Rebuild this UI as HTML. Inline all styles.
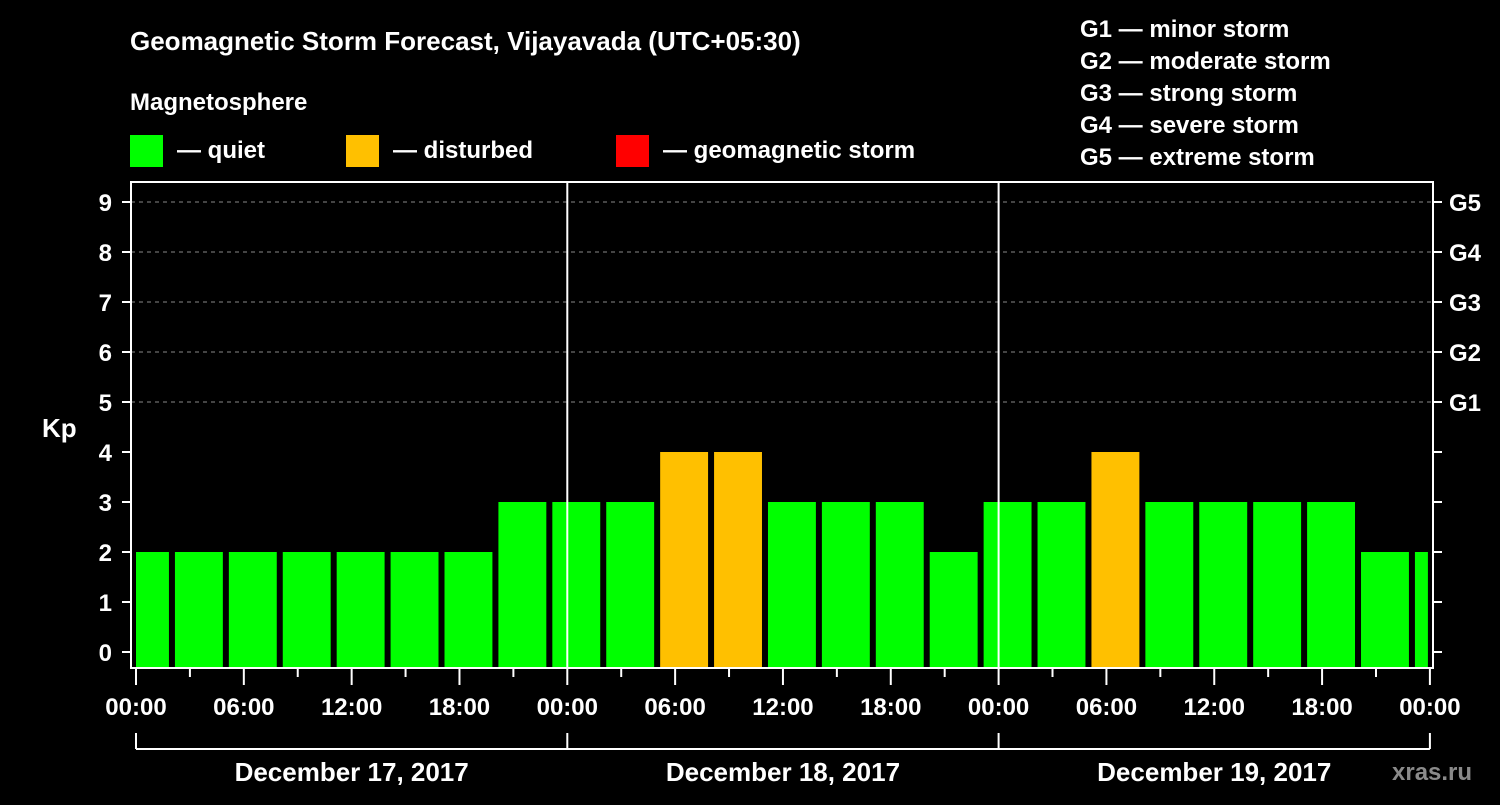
<!DOCTYPE html>
<html><head><meta charset="utf-8"><style>
html,body{margin:0;padding:0;background:#000;}
svg text{font-family:"Liberation Sans",Arial,sans-serif;font-weight:bold;fill:#fff;}
</style></head><body>
<svg id="c" width="1500" height="800" xmlns="http://www.w3.org/2000/svg">
<rect width="1500" height="800" fill="#000"/>
<text x="130" y="50" font-size="26">Geomagnetic Storm Forecast, Vijayavada (UTC+05:30)</text>
<text x="130" y="110" font-size="24">Magnetosphere</text>
<g><rect x="130" y="135" width="33" height="32" fill="#00ff00"/><text x="177" y="158" font-size="24">— quiet</text></g>
<g><rect x="346" y="135" width="33" height="32" fill="#ffc000"/><text x="393" y="158" font-size="24">— disturbed</text></g>
<g><rect x="616" y="135" width="33" height="32" fill="#ff0000"/><text x="663" y="158" font-size="24">— geomagnetic storm</text></g>
<g font-size="24">
<text x="1080" y="37">G1 — minor storm</text>
<text x="1080" y="69">G2 — moderate storm</text>
<text x="1080" y="101">G3 — strong storm</text>
<text x="1080" y="133">G4 — severe storm</text>
<text x="1080" y="165">G5 — extreme storm</text>
</g>
<text x="42" y="437" font-size="26">Kp</text>
<text x="1392" y="780" font-size="24" fill="#888" style="fill:#8a8a8a">xras.ru</text>
<g id="plot"></g>
</svg>
<script>
const kpValues=[2,2,2,2,2,2,2,3,3,3,4,4,3,3,3,2,3,3,4,3,3,3,3,2,2];
const kpLevels=[0,1,2,3,4,5,6,7,8,9];
const gLabels=["G1","G2","G3","G4","G5"];
const timeLabels=["00:00","06:00","12:00","18:00","00:00","06:00","12:00","18:00","00:00","06:00","12:00","18:00","00:00"];
const dayLabels=["December 17, 2017","December 18, 2017","December 19, 2017"];
const NS="http://www.w3.org/2000/svg";
const g=document.getElementById('plot');
const X0=136,DAY=431.3;
const x=h=>X0+h*DAY/24;
const y=v=>652-50*v;
function mk(t,a,p){const e=document.createElementNS(NS,t);for(const k in a)e.setAttribute(k,a[k]);(p||g).appendChild(e);return e;}
// grid
kpLevels.forEach(v=>{if(v>=5){const l=mk('line',{x1:131,x2:1433,y1:y(v),y2:y(v),stroke:'#888','stroke-dasharray':'4,4','stroke-width':1});

}});
// bars
kpValues.forEach((v,i)=>{
 let s=x(-1+3*i)+3,e=x(2+3*i)-3;
 s=Math.max(s,x(0));e=Math.min(e,x(72)-2);
 const col=v>=5?'#ff0000':(v>=4?'#ffc000':'#00ff00');
 const r=mk('rect',{x:s,y:y(v),width:e-s,height:668-y(v),fill:col});
 
 
});
// day separators
[1,2].forEach(d=>{const l=mk('line',{x1:x(24*d),x2:x(24*d),y1:182,y2:668,stroke:'#fff','stroke-width':2});

});
// frame
const f=mk('rect',{x:131,y:182,width:1302,height:486,fill:'none',stroke:'#fff','stroke-width':2});


// y ticks
kpLevels.forEach(v=>{
 mk('line',{x1:122,x2:131,y1:y(v),y2:y(v),stroke:'#fff','stroke-width':2});
 mk('line',{x1:1433,x2:1442,y1:y(v),y2:y(v),stroke:'#fff','stroke-width':2});
 const t=mk('text',{x:112,y:y(v)+9,'font-size':24,'text-anchor':'end'});t.textContent=v;
 
 
});
gLabels.forEach((s,i)=>{const t=mk('text',{x:1449,y:y(5+i)+9,'font-size':24});t.textContent=s;
 
 });
// x ticks
for(let h=0;h<=72;h+=3){const major=h%6===0;mk('line',{x1:x(h),x2:x(h),y1:669,y2:major?685:677,stroke:'#fff','stroke-width':2});}
timeLabels.forEach((s,i)=>{const t=mk('text',{x:x(6*i),y:715,'font-size':24,'text-anchor':'middle'});t.textContent=s;
 
 });
// day brackets
mk('line',{x1:x(0),x2:x(72),y1:749,y2:749,stroke:'#fff','stroke-width':2});
for(let d=0;d<=3;d++)mk('line',{x1:x(24*d),x2:x(24*d),y1:733,y2:749,stroke:'#fff','stroke-width':2});
dayLabels.forEach((s,i)=>{const t=mk('text',{x:x(24*i+12),y:781,'font-size':26,'text-anchor':'middle'});t.textContent=s;
 
 });
</script>
</body></html>
